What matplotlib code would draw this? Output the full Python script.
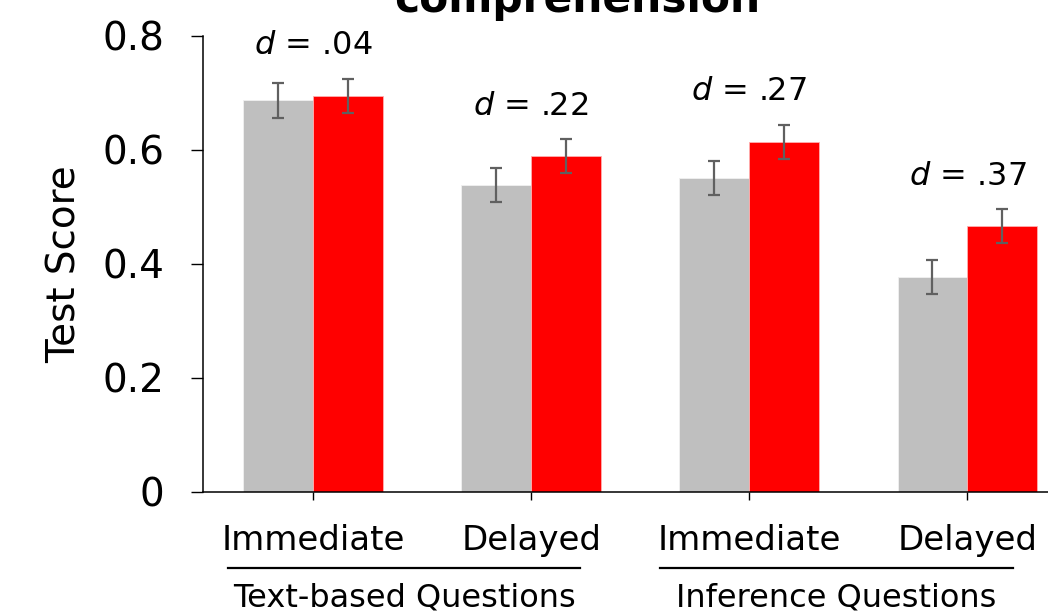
import numpy as np
import matplotlib.pyplot as plt

# test scores per condition, grey = control, red = treatment
conditions = ['Immediate', 'Delayed', 'Immediate', 'Delayed']
groups = ['Text-based Questions', 'Inference Questions']
control = [0.687, 0.538, 0.551, 0.377]
treatment = [0.695, 0.589, 0.614, 0.466]
err_control = [0.031, 0.030, 0.030, 0.030]
err_treatment = [0.030, 0.030, 0.030, 0.030]
effect_sizes = ['.04', '.22', '.27', '.37']

x = np.arange(len(conditions))
w = 0.32

fig = plt.figure(figsize=(10.48, 6.14), dpi=100)
ax = fig.add_axes([0.1937, 0.1987, 0.8063, 0.7427])

ebar = dict(ecolor='#606060', elinewidth=1.6, capsize=4.5, capthick=1.6)
ax.bar(x - w / 2, control, w, yerr=err_control, color='#bfbfbf',
       edgecolor='#f0f0f0', linewidth=0.6, error_kw=ebar)
ax.bar(x + w / 2, treatment, w, yerr=err_treatment, color='#ff0000',
       edgecolor='#ffb0b0', linewidth=0.6, error_kw=ebar)

# effect size above each pair
for i in range(len(x)):
    top = max(control[i] + err_control[i], treatment[i] + err_treatment[i])
    ax.text(x[i], top + 0.058, '$d$ = ' + effect_sizes[i], ha='center',
            va='center', fontsize=23)

ax.set_xlim(-0.505, 3.37)
ax.set_ylim(0, 0.8)
ax.set_yticks([0, 0.2, 0.4, 0.6, 0.8])
ax.set_yticklabels(['0', '0.2', '0.4', '0.6', '0.8'], fontsize=28)
ax.set_xticks(x)
ax.set_xticklabels(conditions, fontsize=24.5)
ax.tick_params(axis='y', direction='out', length=8.6, width=1, pad=19)
ax.tick_params(axis='x', direction='out', length=6, width=1, pad=17)
ax.set_ylabel('Test Score', fontsize=28, labelpad=14)

for s in ['top', 'right']:
    ax.spines[s].set_visible(False)
ax.spines['left'].set_linewidth(1.1)
ax.spines['bottom'].set_linewidth(1.1)

# question type brackets under the tick labels
trans = ax.get_xaxis_transform()
spans = [(-0.39, 1.225), (1.59, 3.21)]
for (a, b), name in zip(spans, groups):
    ax.plot([a, b], [-0.167, -0.167], color='black', lw=1.6,
            transform=trans, clip_on=False)
    ax.text((a + b) / 2, -0.232, name, ha='center', va='center',
            fontsize=23, transform=trans)

fig.text(0.551, 0.981, 'comprehension', ha='center', va='baseline',
         fontsize=30.5, fontweight='bold')

fig.savefig('out.png', dpi=100)
